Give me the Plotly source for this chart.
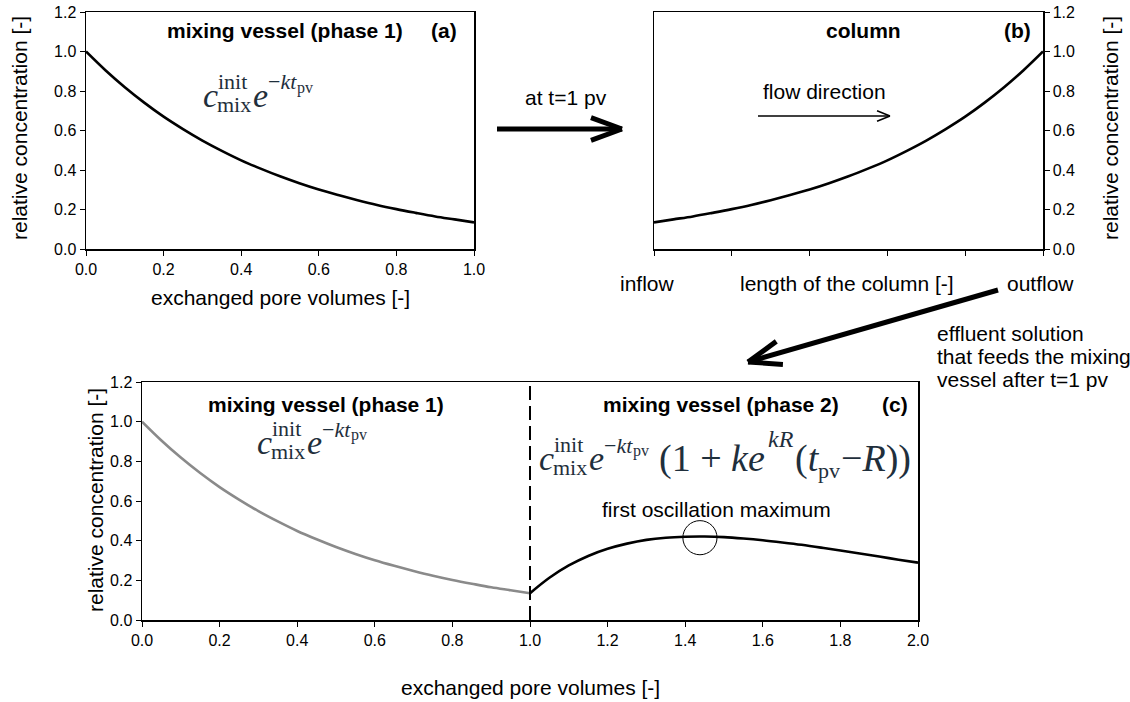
import math
import plotly.graph_objects as go

W, H = 1130, 702

# ---------------- data ----------------
t_phase1 = [0.00, 0.05, 0.10, 0.15, 0.20, 0.25, 0.30, 0.35, 0.40, 0.45, 0.50,
            0.55, 0.60, 0.65, 0.70, 0.75, 0.80, 0.85, 0.90, 0.95, 1.00]
c_phase1 = [1.000, 0.905, 0.819, 0.741, 0.670, 0.607, 0.549, 0.497, 0.449, 0.407, 0.368,
            0.333, 0.301, 0.273, 0.247, 0.223, 0.202, 0.183, 0.165, 0.150, 0.135]

col_length = [0.00, 0.05, 0.10, 0.15, 0.20, 0.25, 0.30, 0.35, 0.40, 0.45, 0.50,
              0.55, 0.60, 0.65, 0.70, 0.75, 0.80, 0.85, 0.90, 0.95, 1.00]
c_column = [0.135, 0.150, 0.165, 0.183, 0.202, 0.223, 0.247, 0.273, 0.301, 0.333, 0.368,
            0.407, 0.449, 0.497, 0.549, 0.607, 0.670, 0.741, 0.819, 0.905, 1.000]

t_phase2 = [1.00, 1.05, 1.10, 1.15, 1.20, 1.25, 1.30, 1.35, 1.40, 1.45, 1.50,
            1.55, 1.60, 1.65, 1.70, 1.75, 1.80, 1.85, 1.90, 1.95, 2.00]
c_phase2 = [0.135, 0.213, 0.275, 0.323, 0.359, 0.385, 0.404, 0.415, 0.420, 0.421, 0.418,
            0.411, 0.402, 0.391, 0.379, 0.365, 0.350, 0.335, 0.320, 0.304, 0.289]

y_ticks = [0.0, 0.2, 0.4, 0.6, 0.8, 1.0, 1.2]
x_ticks_a = [0.0, 0.2, 0.4, 0.6, 0.8, 1.0]
x_ticks_c = [0.0, 0.2, 0.4, 0.6, 0.8, 1.0, 1.2, 1.4, 1.6, 1.8, 2.0]
switch_t = 1.0
max_t, max_c = 1.438, 0.415

FONT = "Liberation Sans, Arial, sans-serif"
SERIF = "Liberation Serif, DejaVu Serif, serif"
FCOL = "#1f2f3c"
TXT = 21


def px(x):
    return x / W


def py(y):
    return 1 - y / H


fig = go.Figure()
fig.add_trace(go.Scatter(x=t_phase1, y=c_phase1, mode="lines", line=dict(color="black", width=2.6, shape="spline"),
                         xaxis="x", yaxis="y", showlegend=False, hoverinfo="skip"))
fig.add_trace(go.Scatter(x=col_length, y=c_column, mode="lines", line=dict(color="black", width=2.6, shape="spline"),
                         xaxis="x2", yaxis="y2", showlegend=False, hoverinfo="skip"))
fig.add_trace(go.Scatter(x=t_phase1, y=c_phase1, mode="lines", line=dict(color="#8a8a8a", width=2.6, shape="spline"),
                         xaxis="x3", yaxis="y3", showlegend=False, hoverinfo="skip"))
fig.add_trace(go.Scatter(x=t_phase2, y=c_phase2, mode="lines", line=dict(color="black", width=2.6, shape="spline"),
                         xaxis="x3", yaxis="y3", showlegend=False, hoverinfo="skip"))

ax_common = dict(showline=True, linecolor="black", linewidth=1.5, mirror=True, ticks="outside",
                 ticklen=5, tickcolor="black", tickwidth=1, showgrid=False, zeroline=False,
                 automargin=False, ticklabeloverflow="allow",
                 tickfont=dict(family=FONT, size=16, color="black"), tickformat=".1f", fixedrange=True)

fig.update_layout(
    width=W, height=H, margin=dict(l=0, r=0, t=0, b=0, autoexpand=False),
    paper_bgcolor="white", plot_bgcolor="white", showlegend=False,
    xaxis=dict(ax_common, domain=[px(86), px(474)], range=[0, 1], tickvals=x_ticks_a, anchor="y"),
    yaxis=dict(ax_common, domain=[py(249), py(12)], range=[0, 1.2], tickvals=y_ticks, anchor="x"),
    xaxis2=dict(ax_common, domain=[px(654), px(1043)], range=[0, 1], tickvals=x_ticks_a,
                showticklabels=False, anchor="y2"),
    yaxis2=dict(ax_common, domain=[py(249), py(12)], range=[0, 1.2], tickvals=y_ticks, side="right",
                anchor="x2"),
    xaxis3=dict(ax_common, domain=[px(142), px(918)], range=[0, 2], tickvals=x_ticks_c, anchor="y3"),
    yaxis3=dict(ax_common, domain=[py(620), py(382)], range=[0, 1.2], tickvals=y_ticks, anchor="x3"),
)

anns = []


def ann(x, y, text, size=TXT, bold=False, family=FONT, color="black", xanchor="center",
        yanchor="middle", angle=0, align="center"):
    if bold:
        text = "<b>" + text + "</b>"
    anns.append(dict(x=px(x), y=py(y), xref="paper", yref="paper", text=text, showarrow=False,
                     font=dict(family=family, size=size, color=color), xanchor=xanchor,
                     yanchor=yanchor, textangle=angle, align=align))


# axis titles
ann(280, 297, "exchanged pore volumes [-]")
ann(20, 128, "relative concentration [-]", angle=-90)
ann(1111, 128, "relative concentration [-]", angle=-90)
ann(95, 500, "relative concentration [-]", angle=-90)
ann(530, 687, "exchanged pore volumes [-]")
ann(647, 283, "inflow")
ann(847, 283, "length of the column [-]")
ann(1040, 283, "outflow")

# panel titles
ann(285, 31, "mixing vessel (phase 1)", bold=True)
ann(444, 31, "(a)", bold=True)
ann(863, 31, "column", bold=True)
ann(1017, 31, "(b)", bold=True)
ann(326, 405, "mixing vessel (phase 1)", bold=True)
ann(721, 405, "mixing vessel (phase 2)", bold=True)
ann(895, 405, "(c)", bold=True)

ann(566, 97, "at t=1 pv")
ann(824, 91, "flow direction")
ann(935, 333, "effluent solution", xanchor="left")
ann(935, 356, "that feeds the mixing", xanchor="left")
ann(935, 379, "vessel after t=1 pv", xanchor="left")
ann(716, 509, "first oscillation maximum")


def formula_simple(x0, y0):
    # c^{init}_{mix} e^{-k t_pv}; x0 = left of c, y0 = centre of the base line glyphs
    ann(x0, y0, "<i>c</i>", size=34, family=SERIF, color=FCOL, xanchor="left")
    ann(x0 + 15, y0 - 14, "init", size=22, family=SERIF, color=FCOL, xanchor="left")
    ann(x0 + 14, y0 + 9, "mix", size=22, family=SERIF, color=FCOL, xanchor="left")
    ann(x0 + 50, y0, "<i>e</i>", size=34, family=SERIF, color=FCOL, xanchor="left")
    ann(x0 + 65, y0 - 13, "\u2212<i>kt</i>", size=22, family=SERIF, color=FCOL, xanchor="left")
    ann(x0 + 94, y0 - 7, "pv", size=16, family=SERIF, color=FCOL, xanchor="left")


formula_simple(201, 95)
formula_simple(255, 442)

# phase 2 formula
x0, y0 = 537, 458
formula_simple(x0, y0)
ann(657, y0, "(1 + <i>ke</i>", size=38, family=SERIF, color=FCOL, xanchor="left")
ann(766, y0 - 19, "<i>kR</i>", size=24, family=SERIF, color=FCOL, xanchor="left")
ann(793, y0, "(<i>t</i>", size=38, family=SERIF, color=FCOL, xanchor="left")
ann(816, y0 + 12, "pv", size=22, family=SERIF, color=FCOL, xanchor="left")
ann(839, y0, "\u2212<i>R</i>))", size=38, family=SERIF, color=FCOL, xanchor="left")

fig.update_layout(annotations=anns)

shapes = []


def arrow(xa, ya, xb, yb, width, head, angle_deg=28):
    shapes.append(dict(type="line", xref="paper", yref="paper", x0=px(xa), y0=py(ya), x1=px(xb), y1=py(yb),
                       line=dict(color="black", width=width)))
    ang = math.atan2(yb - ya, xb - xa)
    for sgn in (1, -1):
        a = ang + math.pi - sgn * math.radians(angle_deg)
        hx, hy = xb + head * math.cos(a), yb + head * math.sin(a)
        shapes.append(dict(type="line", xref="paper", yref="paper", x0=px(xb), y0=py(yb), x1=px(hx),
                           y1=py(hy), line=dict(color="black", width=width)))


arrow(497, 129, 622, 129, 5, 33, 20)
arrow(758, 116, 890, 116, 1.5, 14, 22)
arrow(998, 290, 748, 362, 5, 35, 20)

# dashed separator and circle in (c)
shapes.append(dict(type="line", xref="x3", yref="y3", x0=switch_t, x1=switch_t, y0=0, y1=1.2,
                   line=dict(color="black", width=2, dash="14px,6px")))
shapes.append(dict(type="circle", xref="x3", yref="y3", x0=max_t - 0.044, x1=max_t + 0.044,
                   y0=max_c - 0.086, y1=max_c + 0.086, line=dict(color="black", width=1)))

fig.update_layout(shapes=shapes)

# remove the browser's default 8 px body margin so the figure sits at the page origin
fig.write_html("out.html", config={"displayModeBar": False, "staticPlot": True},
               post_script="document.body.style.margin='0px';")
